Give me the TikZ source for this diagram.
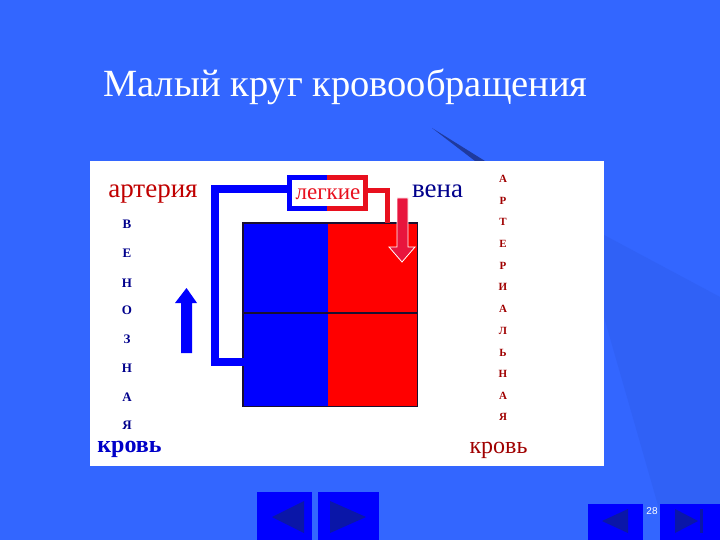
\documentclass[tikz,border=0pt]{standalone}
\usepackage{fontspec}
\setmainfont{Liberation Serif}
\newfontfamily\sansf{Liberation Sans}
\definecolor{bg}{HTML}{3366FF}
\definecolor{bgdark}{HTML}{3061F6}
\definecolor{streak}{HTML}{1F3A9E}
\definecolor{vblue}{HTML}{0000FF}
\definecolor{ared}{HTML}{FF0000}
\definecolor{boxred}{HTML}{E8101E}
\definecolor{crimson}{HTML}{E8153D}
\definecolor{darkline}{HTML}{1A1030}
\definecolor{navy}{HTML}{00008C}
\definecolor{wred}{HTML}{C00000}
\definecolor{lred}{HTML}{A00000}
\definecolor{kblue}{HTML}{0000C8}
\definecolor{btn}{HTML}{0000FF}
\definecolor{tri}{HTML}{0A16A8}
\tikzset{
  lettL/.style={text=navy, font=\fontsize{13}{13}\selectfont\bfseries, inner sep=0},
  lettR/.style={text=lred, font=\fontsize{11}{11}\selectfont\bfseries, inner sep=0},
  word/.style={inner sep=0, anchor=base},
  bluepipe/.style={draw=vblue, line width=8pt},
  redpipe/.style={draw=boxred, line width=5pt},
  button/.style={fill=btn, draw=none, inner sep=0, anchor=north west},
}
\begin{document}
\begin{tikzpicture}[x=1pt,y=-1pt]
\useasboundingbox (0,0) rectangle (720,540);
\fill[bg] (0,0) rectangle (720,540);
\fill[bgdark] (604,235) -- (720,297) -- (720,540) -- (668,540) -- (604,317) -- cycle;
\fill[streak] (432,128) -- (485,161) -- (475,161) -- cycle;
\fill[white] (90,161) rectangle (604,466);

\node[word, text=white, font=\fontsize{38.5}{38.5}\selectfont] (title) at (345.5,97) {Малый круг кровообращения};

% heart chambers
\node[fill=vblue, inner sep=0, minimum width=85pt, minimum height=183pt, anchor=north west] (venous) at (243,223) {};
\node[fill=ared, inner sep=0, minimum width=89pt, minimum height=183pt, anchor=north west] (arterial) at (328,223) {};
\draw[darkline, line width=1.2pt] (venous.north west) rectangle (arterial.south east);
\draw[darkline, line width=1.6pt] (243,313) -- (417,313);

% lungs box
\node[word, text=boxred, font=\fontsize{23}{23}\selectfont] (lungs) at (328,200) {легкие};
\draw[draw=vblue, line width=5pt] (327,177.5) -- (289.5,177.5) -- (289.5,208.5) -- (327,208.5);
\draw[draw=boxred, line width=5pt] (327,177.5) -- (365.5,177.5) -- (365.5,208.5) -- (327,208.5);

% pipes
\coordinate (vout) at (243,362);
\coordinate (lin) at (287,189.5);
\coordinate (lout) at (368,191);
\coordinate (ain) at (387.5,223);
\draw[bluepipe, line cap=rect] (vout) -- (215,362) -- (215,189.5) -- (lin);
\draw[redpipe] (lout) -- (387.5,191) -- (ain);

% arrows
\filldraw[fill=crimson, draw=white, line width=0.8pt] (397,198) -- (408,198) -- (408,247) -- (415,247) -- (402,262) -- (389,247) -- (397,247) -- cycle;
\fill[vblue] (181,353) -- (192,353) -- (192,303) -- (197,303) -- (186.5,288) -- (175,303) -- (181,303) -- cycle;

% words
\node[word, text=wred, font=\fontsize{27}{27}\selectfont] (art) at (153,198) {артерия};
\node[word, text=navy, font=\fontsize{27}{27}\selectfont] (vena) at (437.5,198) {вена};
\node[word, text=kblue, font=\fontsize{24}{24}\selectfont\bfseries] (krovL) at (129.5,452) {кровь};
\node[word, text=lred, font=\fontsize{24}{24}\selectfont] (krovR) at (498.5,453) {кровь};

% left column
\foreach \t/\y [count=\i] in {В/224,Е/253,Н/283,О/310,З/339,Н/368,А/397,Я/425}
  \node[lettL] (vl\i) at (127,\y) {\t};
% right column
\foreach \t/\y [count=\i] in {А/179,Р/201,Т/222,Е/244,Р/266,И/287,А/309,Л/331,Ь/353,Н/374,А/396,Я/417}
  \node[lettR] (ar\i) at (503,\y) {\t};

% navigation buttons
\node[button, minimum width=55pt, minimum height=48pt] (b1) at (257,492) {};
\node[button, minimum width=61pt, minimum height=48pt] (b2) at (318,492) {};
\fill[tri] (272,517) -- (304,501) -- (304,533) -- cycle;
\fill[tri] (330,501) -- (366,517) -- (330,533) -- cycle;
\node[button, minimum width=55pt, minimum height=36pt] (b3) at (588,504) {};
\node[button, minimum width=60pt, minimum height=36pt] (b4) at (660,504) {};
\fill[tri] (602,521) -- (628,509) -- (628,533) -- cycle;
\fill[tri] (675,509) -- (698,521) -- (675,533) -- cycle;
\fill[tri] (700,509) rectangle (703,533);
\node[inner sep=0, text=white, font=\fontsize{10}{10}\selectfont\sansf] (pg) at (652,511) {28};
\end{tikzpicture}
\end{document}
